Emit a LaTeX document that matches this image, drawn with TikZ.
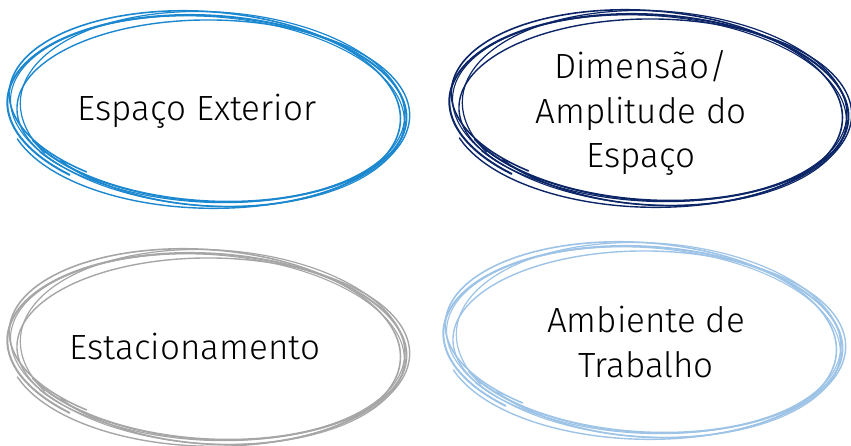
\documentclass[tikz,border=0pt]{standalone}
\usepackage{fontspec}
\setmainfont{Fira Sans}[UprightFont=* Light]
\definecolor{cA}{HTML}{1B87CF}
\definecolor{cB}{HTML}{0B2567}
\definecolor{cC}{HTML}{A6A6A6}
\definecolor{cD}{HTML}{9DC3E6}
\tikzset{scrib/.style={line cap=round, line join=round},
  lbl/.style={font=\fontsize{35}{44.5}\selectfont, align=center, text=black, inner sep=0pt}}
\newcommand\scribloop[3]{%
 \foreach \a/\b/\c/\d/\r/\s/\e/\w/\ox/\oy in {
   194/203/90/97/-3/206/588/2.0/0/0,
   203/193/98/89/-1/198/580/1.4/2/-2,
   190/200/100/92/-5/222/595/1.6/-2/3,
   199/189/92/100/-2/212/570/1.2/1/1,
   196/198/95/94/-4/215/583/1.1/-1/-1}
 {\draw[scrib, #3, line width=\w pt, rotate around={\r:(#1,#2)}]
   plot[domain=\s:\e, samples=100, smooth, variable=\t]
   ({#1+\ox+(\a+(\b-\a)*(\t-\s)/(\e-\s))*cos(\t)},
    {#2+\oy+(\c+(\d-\c)*(\t-\s)/(\e-\s))*sin(\t)});}%
}
\begin{document}
\begin{tikzpicture}[x=1pt,y=1pt]
\useasboundingbox (0,0) rectangle (851,446);
\scribloop{209}{336}{cA}
\scribloop{651}{337}{cB}
\scribloop{209}{98}{cC}
\scribloop{645}{105}{cD}
\node[lbl, anchor=base] (t1) at (197,325) {Espaço Exterior};
\node[lbl] (t2) at (641,333) {Dimensão/\\Amplitude do\\Espaço};
\node[lbl, anchor=base] (t3) at (195,86) {Estacionamento};
\node[lbl] (t4) at (646,104) {Ambiente de\\Trabalho};
\end{tikzpicture}
\end{document}
